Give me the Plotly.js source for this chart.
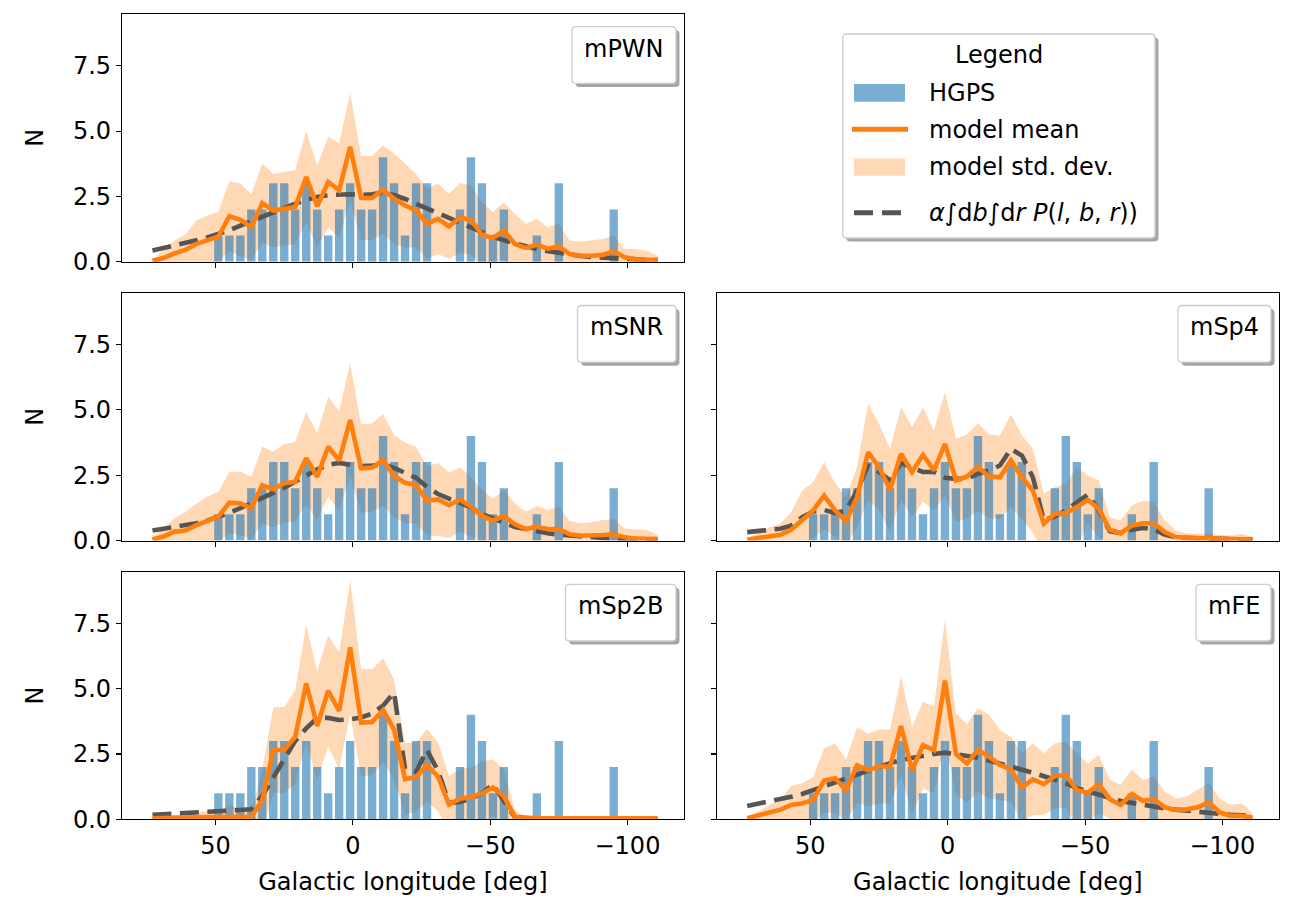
<!DOCTYPE html>
<html>
<head>
<meta charset="utf-8">
<script src="https://cdn.plot.ly/plotly-3.0.1.min.js"></script>
<style>
html, body { margin: 0; padding: 0; background: #ffffff; }
#chart { width: 1289px; height: 898px; }
</style>
</head>
<body>
<div id="chart"></div>
<script>
// ---------------- data ----------------
const longitude = [73,69,65,61,57,53,49,45,41,37,33,29,25,21,17,13,9,5,1,-3,-7,-11,-15,-19,-23,-27,-31,-35,-39,-43,-47,-51,-55,-59,-63,-67,-71,-75,-79,-83,-87,-91,-95,-99,-103,-107,-111];
const hgpsCounts = [0,0,0,0,0,0,1,1,1,2,2,3,3,2,3,2,1,2,3,2,2,4,3,1,3,3,0,0,2,4,3,1,2,0,0,1,0,3,0,0,0,0,2,0,0,0,0];

const meanPWN = [0.04,0.14,0.32,0.45,0.68,0.81,0.96,1.74,1.60,1.32,2.24,1.96,2.03,2.09,3.24,2.12,3.05,2.73,4.40,2.44,2.44,2.76,2.41,2.15,1.96,1.45,1.64,1.35,1.68,1.60,1.04,0.90,1.19,0.68,0.53,0.65,0.50,0.58,0.29,0.23,0.23,0.26,0.40,0.17,0.09,0.08,0.06];
const stdPWN  = [0.02,0.35,0.49,0.59,0.90,0.96,0.94,1.34,1.39,1.26,1.52,1.41,1.41,1.41,1.76,1.57,1.73,1.80,2.07,1.61,1.61,1.70,1.73,1.61,1.41,1.34,1.35,1.25,1.33,1.32,1.24,1.00,1.09,1.15,0.92,0.99,0.82,0.87,0.52,0.54,0.58,0.61,0.60,0.32,0.40,0.34,0.17];
const losPWN  = [0.43,0.52,0.62,0.72,0.82,0.93,1.06,1.20,1.38,1.55,1.73,1.90,2.07,2.22,2.36,2.48,2.55,2.58,2.58,2.56,2.58,2.65,2.55,2.40,2.22,2.05,1.85,1.65,1.48,1.30,1.12,0.95,0.82,0.70,0.58,0.48,0.40,0.33,0.27,0.22,0.18,0.15,0.12,0.10,0.08,0.07,0.06];

const meanSNR = [0.04,0.15,0.34,0.38,0.59,0.75,0.91,1.45,1.42,1.24,2.12,1.96,2.19,2.25,3.15,2.44,3.59,3.06,4.61,2.76,2.79,3.08,2.47,2.21,2.12,1.52,1.57,1.35,1.57,1.29,0.94,0.76,0.94,0.62,0.44,0.53,0.43,0.44,0.24,0.18,0.18,0.21,0.24,0.12,0.07,0.07,0.06];
const stdSNR  = [0.11,0.31,0.51,0.72,0.83,0.93,0.96,1.18,1.21,1.20,1.47,1.44,1.50,1.53,1.78,1.66,1.91,1.91,2.17,1.70,1.69,1.76,1.57,1.54,1.47,1.32,1.40,1.25,1.23,1.15,0.99,0.85,0.99,0.80,0.66,0.79,0.74,0.85,0.51,0.48,0.52,0.57,0.57,0.34,0.36,0.33,0.15];
const losSNR  = [0.38,0.44,0.50,0.58,0.66,0.76,0.90,1.06,1.24,1.42,1.61,1.82,2.02,2.25,2.50,2.72,2.90,2.97,2.90,2.85,2.87,2.90,2.78,2.60,2.40,2.05,1.78,1.60,1.45,1.27,1.02,0.85,0.65,0.52,0.44,0.35,0.28,0.22,0.18,0.14,0.12,0.10,0.08,0.07,0.05,0.04,0.03];

const meanSp4 = [0.03,0.10,0.15,0.22,0.41,0.77,1.15,1.72,1.15,0.74,1.66,3.38,2.81,1.94,3.32,2.62,3.28,2.68,3.70,2.30,2.45,2.81,2.45,2.42,3.06,2.42,1.91,0.64,1.02,1.05,1.28,1.56,1.21,0.41,0.28,0.57,0.66,0.66,0.32,0.13,0.09,0.08,0.08,0.06,0.05,0.05,0.04];
const stdSp4  = [0.03,0.22,0.36,0.42,0.67,1.14,1.08,1.28,1.04,0.92,1.15,1.85,1.65,1.57,1.78,1.72,1.80,1.53,1.98,1.59,1.61,1.68,1.61,1.60,1.76,1.60,1.60,1.15,1.02,1.12,1.53,0.93,1.09,0.48,0.49,0.77,0.85,0.81,0.45,0.25,0.19,0.20,0.18,0.16,0.14,0.21,0.09];
const losSp4  = [0.32,0.37,0.41,0.45,0.57,0.89,1.11,1.17,1.05,1.15,1.91,2.87,2.62,2.30,2.97,2.81,2.62,2.62,2.40,2.36,2.36,2.55,2.68,2.87,3.51,3.25,2.42,0.77,0.92,1.15,1.43,1.76,1.15,0.36,0.28,0.41,0.48,0.43,0.23,0.13,0.10,0.08,0.07,0.06,0.05,0.05,0.04];

const meanSp2B = [0.04,0.04,0.05,0.06,0.08,0.09,0.10,0.13,0.10,0.09,0.74,2.65,2.65,3.16,5.20,3.57,4.92,4.15,6.58,3.70,3.72,4.18,3.44,1.54,1.61,2.08,1.63,0.57,0.79,0.85,0.99,1.22,0.87,0.10,0.05,0.04,0.04,0.04,0.04,0.04,0.04,0.04,0.04,0.04,0.04,0.04,0.04];
const stdSp2B  = [0.04,0.06,0.12,0.17,0.19,0.23,0.23,0.42,0.32,0.20,1.15,1.64,1.64,1.79,2.24,2.08,2.13,2.23,2.55,2.05,2.03,1.98,1.92,1.37,1.32,1.38,1.32,1.08,1.14,1.13,1.20,1.08,1.02,0.24,0.06,0.04,0.04,0.04,0.04,0.04,0.04,0.04,0.04,0.04,0.04,0.04,0.04];
const losSp2B  = [0.17,0.19,0.22,0.24,0.26,0.28,0.30,0.32,0.35,0.38,0.90,1.60,2.38,3.00,3.48,3.88,3.88,3.80,3.82,3.90,4.05,4.35,4.85,1.93,1.82,2.65,1.85,0.63,0.66,0.80,1.00,1.34,0.70,0.08,0.03,0.02,0.02,0.02,0.02,0.02,0.02,0.02,0.02,0.02,0.02,0.02,0.02];

const meanFE = [0.04,0.13,0.26,0.36,0.55,0.61,0.74,1.48,1.57,1.12,2.07,1.88,2.02,2.02,3.57,1.88,2.84,2.65,5.31,2.50,2.14,2.65,2.40,2.08,1.91,1.22,1.53,1.35,1.66,1.70,1.12,1.02,1.34,0.77,0.55,0.97,0.71,0.77,0.46,0.36,0.38,0.46,0.65,0.26,0.13,0.13,0.06];
const stdFE  = [0.04,0.16,0.29,0.38,0.73,0.77,0.87,1.24,1.32,1.18,1.45,1.39,1.42,1.42,1.91,1.67,1.66,1.66,2.32,1.56,1.51,1.60,1.60,1.34,1.25,1.31,1.38,1.18,1.25,1.27,1.41,1.12,1.12,0.74,0.77,0.94,0.80,0.86,0.60,0.44,0.49,0.66,0.75,0.54,0.42,0.48,0.17];
const losFE  = [0.51,0.59,0.68,0.77,0.86,0.97,1.12,1.26,1.40,1.55,1.70,1.85,2.02,2.15,2.27,2.36,2.43,2.50,2.55,2.50,2.43,2.36,2.25,2.14,2.02,1.90,1.78,1.65,1.52,1.38,1.19,1.08,0.97,0.82,0.70,0.62,0.55,0.48,0.42,0.37,0.33,0.27,0.22,0.19,0.17,0.15,0.13];

const modelNames = ['mPWN','mSNR','mSp4','mSp2B','mFE'];
const xTickVals = [50, 0, -50, -100];
const yTickVals = [0, 2.5, 5, 7.5];
const legendLabels = ['HGPS', 'model mean', 'model std. dev.'];

// ---------------- layout helpers ----------------
const W = 1289, H = 898;
const PX = v => v / W;
const PY = v => 1 - v / H;
const FONT = 'DejaVu Sans';
const C_BAR = 'rgba(31,119,180,0.6)';
const C_BAND = 'rgba(255,127,14,0.3)';
const C_MEAN = '#ff7f0e';
const C_LOS = '#555555';

const colPx = { L: [122, 684], R: [716.7, 1279] };
const rowPx = [[14, 261.7], [292.8, 540.5], [571.6, 819.3]];

const panels = [
  { name: modelNames[0], mean: meanPWN,  std: stdPWN,  los: losPWN,  col: 'L', row: 0, xlab: false, ylab: true,  box: [572, 676] },
  { name: modelNames[1], mean: meanSNR,  std: stdSNR,  los: losSNR,  col: 'L', row: 1, xlab: false, ylab: true,  box: [577.5, 676] },
  { name: modelNames[2], mean: meanSp4,  std: stdSp4,  los: losSp4,  col: 'R', row: 1, xlab: false, ylab: false, box: [1178, 1271] },
  { name: modelNames[3], mean: meanSp2B, std: stdSp2B, los: losSp2B, col: 'L', row: 2, xlab: true,  ylab: true,  box: [565.5, 676] },
  { name: modelNames[4], mean: meanFE,   std: stdFE,   los: losFE,   col: 'R', row: 2, xlab: true,  ylab: false, box: [1196, 1271] }
];

function rrect(x0, y0, x1, y1, r) {
  const X = v => (v / W).toFixed(5), Y = v => (1 - v / H).toFixed(5);
  return `M${X(x0 + r)},${Y(y0)} L${X(x1 - r)},${Y(y0)} Q${X(x1)},${Y(y0)} ${X(x1)},${Y(y0 + r)} ` +
         `L${X(x1)},${Y(y1 - r)} Q${X(x1)},${Y(y1)} ${X(x1 - r)},${Y(y1)} ` +
         `L${X(x0 + r)},${Y(y1)} Q${X(x0)},${Y(y1)} ${X(x0)},${Y(y1 - r)} ` +
         `L${X(x0)},${Y(y0 + r)} Q${X(x0)},${Y(y0)} ${X(x0 + r)},${Y(y0)} Z`;
}
function boxShapes(x0, y0, x1, y1) {
  return [
    { type: 'path', xref: 'paper', yref: 'paper', path: rrect(x0 + 3.5, y0 + 3.5, x1 + 3.5, y1 + 3.5, 4),
      fillcolor: '#a6a6a6', line: { width: 0 }, layer: 'above' },
    { type: 'path', xref: 'paper', yref: 'paper', path: rrect(x0, y0, x1, y1, 4),
      fillcolor: '#ffffff', line: { color: '#cccccc', width: 1.3 }, layer: 'above' }
  ];
}

const traces = [];
const layout = {
  width: W, height: H,
  margin: { l: 0, r: 0, t: 0, b: 0 },
  paper_bgcolor: '#ffffff', plot_bgcolor: '#ffffff',
  showlegend: false, hovermode: false,
  font: { family: FONT, size: 24, color: '#000000' },
  shapes: [], annotations: []
};

panels.forEach((p, i) => {
  const nb = 2 * i + 1, no = 2 * i + 2;
  const xb = 'x' + (nb === 1 ? '' : nb), yb = 'y' + (nb === 1 ? '' : nb);
  const xo = 'x' + no, yo = 'y' + no;
  const xd = [PX(colPx[p.col][0]), PX(colPx[p.col][1])];
  const yd = [PY(rowPx[p.row][1]), PY(rowPx[p.row][0])];
  const lower = p.mean.map((m, k) => m - p.std[k]);
  const upper = p.mean.map((m, k) => m + p.std[k]);

  // std band (base subplot, drawn beneath)
  traces.push({ type: 'scatter', mode: 'lines', x: longitude, y: lower, xaxis: xb, yaxis: yb,
    line: { width: 0, color: 'rgba(0,0,0,0)' }, hoverinfo: 'skip', name: 'lower' });
  traces.push({ type: 'scatter', mode: 'lines', x: longitude, y: upper, xaxis: xb, yaxis: yb,
    fill: 'tonexty', fillcolor: C_BAND, line: { width: 0, color: 'rgba(0,0,0,0)' }, hoverinfo: 'skip',
    name: legendLabels[2] });
  // HGPS histogram
  traces.push({ type: 'bar', x: longitude, y: hgpsCounts, width: 3.05, xaxis: xo, yaxis: yo,
    marker: { color: C_BAR, line: { width: 0 } }, name: legendLabels[0] });
  // integrated probability (dashed)
  traces.push({ type: 'scatter', mode: 'lines', x: longitude, y: p.los, xaxis: xo, yaxis: yo,
    line: { color: C_LOS, width: 4.6, dash: '19px,8.5px' }, name: 'los' });
  // model mean
  traces.push({ type: 'scatter', mode: 'lines', x: longitude, y: p.mean, xaxis: xo, yaxis: yo,
    line: { color: C_MEAN, width: 4.6 }, name: legendLabels[1] });

  const keyXb = 'xaxis' + (nb === 1 ? '' : nb), keyYb = 'yaxis' + (nb === 1 ? '' : nb);
  layout[keyXb] = { domain: xd, range: [84.1, -120.6], visible: false, anchor: yb, fixedrange: true };
  layout[keyYb] = { domain: yd, range: [0, 9.48], visible: false, anchor: xb, fixedrange: true };
  layout['xaxis' + no] = {
    domain: xd, overlaying: xb, anchor: yo, range: [84.1, -120.6], fixedrange: true,
    showline: true, mirror: true, linecolor: '#000000', linewidth: 1.1,
    ticks: 'outside', ticklen: 5, tickwidth: 1.1, tickcolor: '#000000',
    tickmode: 'array', tickvals: xTickVals, showticklabels: p.xlab,
    tickfont: { family: FONT, size: 24, color: '#000000' },
    showgrid: false, zeroline: false,
    title: p.xlab ? { text: 'Galactic longitude [deg]', font: { family: FONT, size: 24, color: '#000' }, standoff: 14 } : { text: '' }
  };
  layout['yaxis' + no] = {
    domain: yd, overlaying: yb, anchor: xo, range: [0, 9.48], fixedrange: true,
    showline: true, mirror: true, linecolor: '#000000', linewidth: 1.1,
    ticks: 'outside', ticklen: 5, tickwidth: 1.1, tickcolor: '#000000',
    tickmode: 'array', tickvals: yTickVals, tickformat: '.1f', showticklabels: p.ylab,
    tickfont: { family: FONT, size: 24, color: '#000000' },
    showgrid: false, zeroline: false,
    title: p.ylab ? { text: 'N', font: { family: FONT, size: 24, color: '#000' }, standoff: 22 } : { text: '' }
  };

  // model name box (upper right of each panel)
  const top = rowPx[p.row][0] + 12.7;
  const bot = top + 56.7;
  layout.shapes.push(...boxShapes(p.box[0], top, p.box[1], bot));
  layout.annotations.push({ xref: 'paper', yref: 'paper', x: PX((p.box[0] + p.box[1]) / 2), y: PY(top + 22),
    text: p.name, showarrow: false, xanchor: 'center', yanchor: 'middle',
    font: { family: FONT, size: 24, color: '#000' } });
});

// ---------------- main legend (top right) ----------------
layout.shapes.push(...boxShapes(842.7, 34, 1155, 238));
layout.shapes.push({ type: 'rect', xref: 'paper', yref: 'paper', x0: PX(854), x1: PX(905), y0: PY(101.7), y1: PY(84),
  fillcolor: C_BAR, line: { width: 0 }, layer: 'above' });
layout.shapes.push({ type: 'line', xref: 'paper', yref: 'paper', x0: PX(852), x1: PX(908), y0: PY(129.3), y1: PY(129.3),
  line: { color: C_MEAN, width: 5 }, layer: 'above' });
layout.shapes.push({ type: 'rect', xref: 'paper', yref: 'paper', x0: PX(854), x1: PX(905), y0: PY(175.7), y1: PY(158.3),
  fillcolor: C_BAND, line: { width: 0 }, layer: 'above' });
layout.shapes.push({ type: 'line', xref: 'paper', yref: 'paper', x0: PX(854), x1: PX(902), y0: PY(212.7), y1: PY(212.7),
  line: { color: C_LOS, width: 5, dash: '19px,9px' }, layer: 'above' });

const legendText = [
  { t: 'Legend', x: 999, y: 55, a: 'center' },
  { t: legendLabels[0], x: 926.7, y: 93, a: 'left' },
  { t: legendLabels[1], x: 926.7, y: 129.5, a: 'left' },
  { t: legendLabels[2], x: 926.7, y: 167, a: 'left' },
  { t: '<i>α</i>∫d<i>b</i>∫d<i>r</i> <i>P</i>(<i>l</i>, <i>b</i>, <i>r</i>))', x: 926.7, y: 213, a: 'left' }
];
legendText.forEach(e => layout.annotations.push({ xref: 'paper', yref: 'paper', x: PX(e.x), y: PY(e.y), text: e.t,
  showarrow: false, xanchor: e.a, yanchor: 'middle', font: { family: FONT, size: 24, color: '#000' } }));

Plotly.newPlot('chart', traces, layout, { staticPlot: true, displayModeBar: false });
</script>
</body>
</html>
